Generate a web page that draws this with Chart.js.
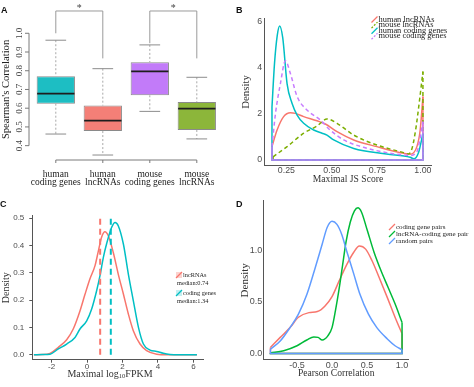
<!DOCTYPE html>
<html><head><meta charset="utf-8">
<script src="https://cdn.jsdelivr.net/npm/chart.js@4.4.1/dist/chart.umd.min.js"></script>
<style>
html,body{margin:0;padding:0;background:#fff;}
#wrap{position:relative;width:474px;height:387px;overflow:hidden;background:#fff}
canvas{position:absolute;}
.pl{position:absolute;font:bold 9px "Liberation Sans",Arial,sans-serif;line-height:9px;color:#111}
</style></head><body>
<div id="wrap">
<canvas id="cA" width="237" height="194" style="left:0;top:0"></canvas>
<canvas id="cB" width="237" height="194" style="left:237px;top:0"></canvas>
<canvas id="cC" width="237" height="193" style="left:0;top:194px"></canvas>
<canvas id="cD" width="237" height="193" style="left:237px;top:194px"></canvas>
<div class="pl" style="left:1px;top:6px">A</div>
<div class="pl" style="left:236px;top:6px">B</div>
<div class="pl" style="left:0px;top:200px">C</div>
<div class="pl" style="left:236px;top:200px">D</div>
</div>
<script>
const SERIF='"Liberation Serif","Times New Roman",serif';
const SANS='"Liberation Sans",Arial,sans-serif';

// ---------- Panel A : box plot ----------
const boxCategories=[['human','coding genes'],['human','lncRNAs'],['mouse','coding genes'],['mouse','lncRNAs']];
const boxLower =[0.462,0.350,0.583,0.436];
const boxQ1    =[0.624,0.478,0.669,0.484];
const boxMedian=[0.678,0.534,0.797,0.598];
const boxQ3    =[0.770,0.615,0.845,0.633];
const boxUpper =[0.963,0.811,0.938,0.765];
const boxColors=['#1DBEC3','#F47F77','#C27BF9','#8CB63A'];
const aYTicks=[0.4,0.5,0.6,0.7,0.8,0.9,1.0];
const aYTickLabels=['0.4','0.5','0.6','0.7','0.8','0.9','1.0'];
const aYTitle="Spearman's Correlation";
const sigPairs=[[0,1],[2,3]];
const sigTop=1.119;
const sigDrops=[[1.0,0.866],[0.947,0.866]];
const sigLabel='*';

// ---------- Panel B : JS score densities ----------
const bLabels=['human lncRNAs','mouse lncRNAs','human coding genes','mouse coding genes'];
const bHumanLncX=[0.171,0.199,0.235,0.272,0.30,0.345,0.418,0.464,0.528,0.62,0.747,0.894,0.93,0.967,0.985,1.0];
const bHumanLncY=[0.58,1.3,1.88,2.05,2.02,1.88,1.7,1.56,1.23,0.87,0.58,0.29,0.25,0.58,1.3,2.75];
const bMouseLncX=[0.177,0.254,0.345,0.418,0.473,0.528,0.62,0.747,0.894,0.92,0.94,0.96,0.98,1.0];
const bMouseLncY=[0.14,0.58,1.16,1.47,1.78,1.59,1.08,0.65,0.32,0.26,0.5,1.3,2.5,3.83];
const bHumanCodX=[0.171,0.185,0.20,0.213,0.23,0.254,0.281,0.309,0.345,0.40,0.446,0.473,0.51,0.62,0.80,0.93,0.95,0.975,1.0];
const bHumanCodY=[2.3,4.2,5.4,5.81,5.3,3.3,2.46,1.95,1.59,1.3,1.16,1.08,0.87,0.5,0.26,0.12,0.05,0.3,1.15];
const bMouseCodX=[0.171,0.19,0.217,0.245,0.272,0.309,0.363,0.437,0.49,0.565,0.674,0.802,0.93,0.967,1.0];
const bMouseCodY=[0.58,2.0,3.3,4.3,3.75,2.75,2.17,1.73,1.3,0.87,0.55,0.32,0.2,0.36,1.66];
const bXTicks=[0.25,0.5,0.75,1.0];
const bXTickLabels=['0.25','0.50','0.75','1.00'];
const bYTicks=[0,2,4,6];
const bYTickLabels=['0','2','4','6'];

// ---------- Panel C : expression densities ----------
const cLncX=[-3.0,-2.5,-2.09,-1.62,-1.15,-0.78,-0.4,-0.12,0.16,0.45,0.64,0.82,1.01,1.2,1.48,1.76,2.05,2.33,2.61,2.99,3.36,3.93,4.5,6.2];
const cLncY=[0,0.0005,0.005,0.027,0.055,0.094,0.16,0.22,0.277,0.326,0.38,0.43,0.45,0.435,0.374,0.295,0.222,0.149,0.088,0.039,0.015,0.002,0,0];
const cCodX=[-3.0,-2.5,-2.09,-1.62,-1.15,-0.68,-0.4,-0.02,0.26,0.54,0.73,0.92,1.1,1.39,1.58,1.76,2.05,2.33,2.61,2.9,3.18,3.55,3.93,4.3,4.68,5.2,6.2];
const cCodY=[0,0.0005,0.002,0.021,0.039,0.063,0.094,0.124,0.167,0.234,0.289,0.356,0.405,0.466,0.484,0.472,0.405,0.295,0.198,0.1,0.039,0.017,0.012,0.005,0.001,0,0];
const cMedians=[0.74,1.34];
const cLegend=['lncRNAs','median:0.74','coding genes','median:1.34'];
const cXTicks=[-2,0,2,4,6];
const cXTickLabels=['-2','0','2','4','6'];
const cYTicks=[0,0.1,0.2,0.3,0.4,0.5];
const cYTickLabels=['0.0','0.1','0.2','0.3','0.4','0.5'];

// ---------- Panel D : Pearson correlation densities ----------
const dLabels=['coding gene pairs','lncRNA-coding gene pair','random pairs'];
const dCodX=[-0.88,-0.74,-0.6,-0.48,-0.33,-0.21,-0.1,0,0.1,0.21,0.31,0.39,0.48,0.57,0.67,0.79,0.9,1.0];
const dCodY=[0.058,0.155,0.25,0.35,0.395,0.405,0.46,0.55,0.7,0.86,0.98,1.04,1.01,0.9,0.74,0.54,0.35,0.19];
const dLncX=[-0.88,-0.69,-0.5,-0.36,-0.26,-0.2,-0.14,-0.06,0,0.05,0.1,0.15,0.2,0.26,0.32,0.37,0.42,0.5,0.6,0.7,0.8,0.9,1.0];
const dLncY=[0.005,0.026,0.074,0.13,0.16,0.155,0.13,0.17,0.25,0.42,0.62,0.85,1.08,1.27,1.38,1.41,1.37,1.2,0.98,0.8,0.64,0.48,0.3];
const dRndX=[-0.88,-0.74,-0.6,-0.48,-0.36,-0.24,-0.14,-0.07,0,0.07,0.14,0.21,0.31,0.4,0.52,0.64,0.79,0.9,1.0];
const dRndY=[0.04,0.12,0.25,0.38,0.57,0.83,1.06,1.22,1.28,1.25,1.15,0.99,0.77,0.57,0.38,0.25,0.14,0.074,0.035];
const dXTicks=[-0.5,0,0.5,1.0];
const dXTickLabels=['-0.5','0.0','0.5','1.0'];
const dYTicks=[0,0.5,1.0];
const dYTickLabels=['0.0','0.5','1.0'];

const RED='#F8766D', TEAL='#00BFC4', GREEN_B='#7CAE00', PURPLE='#C77CFF', GREEN_D='#00BA38', BLUE='#619CFF';

// ---------- helpers ----------
function pts(xs,ys){return xs.map((x,i)=>({x:x,y:ys[i]}));}
function curve(label,xs,ys,color,dash,order){
  return {label,data:pts(xs,ys),borderColor:color,borderWidth:1.5,borderDash:dash||[],pointRadius:0,
    cubicInterpolationMode:'monotone',fill:false,order};
}
function frame(xs,ys,color,dash,order){
  const n=xs.length-1;
  return {label:'',data:[{x:xs[0],y:ys[0]},{x:xs[0],y:0},{x:xs[n],y:0},{x:xs[n],y:ys[n]}],
    borderColor:color,borderWidth:1.5,borderDash:dash||[],pointRadius:0,tension:0,fill:false,order};
}
function axis(o){
  return {type:'linear',min:o.min,max:o.max,
    afterBuildTicks:s=>{s.ticks=o.ticks.map(v=>({value:v}));},
    ticks:{callback:(v,i)=>o.labels[i],font:{family:SANS,size:o.fs},color:'#4d4d4d',padding:o.pad,
      maxRotation:0,minRotation:0,autoSkip:false},
    grid:{display:o.tl>0,drawOnChartArea:false,drawTicks:o.tl>0,tickLength:o.tl||0,color:'#555'},
    border:{display:true,color:'#555',width:1},
    title:o.title?{display:true,text:o.title,font:{family:SERIF,size:o.ts},color:'#333',padding:o.tp}:{display:false},
    afterFit:s=>{ if(o.h) s.height=o.fit; else s.width=o.fit; }
  };
}
function drawLegend(ctx,items,x,y0,dy,font){
  ctx.save();ctx.font=font;ctx.textBaseline='middle';ctx.textAlign='left';
  items.forEach((it,i)=>{
    const y=y0+i*dy;
    if(it.color){
      if(it.box){ctx.fillStyle=it.box;ctx.fillRect(x-7,y-3,6,6);}
      ctx.strokeStyle=it.color;ctx.lineWidth=1.3;ctx.setLineDash(it.dash||[]);
      ctx.beginPath();ctx.moveTo(x-7,y+3);ctx.lineTo(x-1,y-3);ctx.stroke();ctx.setLineDash([]);
    }
    ctx.fillStyle='#222';ctx.fillText(it.text,x,y);
  });
  ctx.restore();
}
const base={responsive:false,animation:false,events:[],devicePixelRatio:1,
  plugins:{legend:{display:false},tooltip:{enabled:false}}};

// ---------- Chart A ----------
const aPlugin={id:'aDeco',afterDatasetsDraw(chart){
  const {ctx,scales:{x,y},chartArea}=chart;
  const meta=chart.getDatasetMeta(0);
  const L=(x1,y1,x2,y2)=>{ctx.beginPath();ctx.moveTo(x1,y1);ctx.lineTo(x2,y2);ctx.stroke();};
  ctx.save();
  meta.data.forEach((bar,i)=>{
    const cx=bar.x,w=bar.width;
    const yU=y.getPixelForValue(boxUpper[i]),yL=y.getPixelForValue(boxLower[i]);
    const y3=y.getPixelForValue(boxQ3[i]),y1=y.getPixelForValue(boxQ1[i]),yM=y.getPixelForValue(boxMedian[i]);
    ctx.strokeStyle='#a8a8a8';ctx.lineWidth=1;ctx.setLineDash([2,2]);
    L(cx,yU,cx,y3);L(cx,y1,cx,yL);
    ctx.setLineDash([]);ctx.strokeStyle='#8c8c8c';
    L(cx-w*0.27,yU,cx+w*0.27,yU);L(cx-w*0.27,yL,cx+w*0.27,yL);
    ctx.strokeStyle='#1e1e1e';ctx.lineWidth=1.8;L(cx-w/2+0.5,yM,cx+w/2-0.5,yM);
  });
  // y axis (R style)
  const ax=chartArea.left-3.3;
  ctx.strokeStyle='#7a7a7a';ctx.lineWidth=1;
  L(ax,y.getPixelForValue(aYTicks[0]),ax,y.getPixelForValue(aYTicks[aYTicks.length-1]));
  ctx.font='9px '+SERIF;ctx.fillStyle='#444';ctx.textAlign='center';ctx.textBaseline='middle';
  aYTicks.forEach((v,i)=>{
    const py=y.getPixelForValue(v);L(ax-4,py,ax,py);
    ctx.save();ctx.translate(ax-9.5,py);ctx.rotate(-Math.PI/2);ctx.fillText(aYTickLabels[i],0,0);ctx.restore();
  });
  ctx.save();ctx.font='10.6px '+SERIF;ctx.fillStyle='#222';
  ctx.translate(6.5,(y.getPixelForValue(0.4)+y.getPixelForValue(1.0))/2);ctx.rotate(-Math.PI/2);
  ctx.fillText(aYTitle,0,0);ctx.restore();
  // x axis line with ticks
  const by=chartArea.bottom;
  L(x.getPixelForValue(0),by,x.getPixelForValue(boxCategories.length-1),by);
  boxCategories.forEach((c,i)=>{const px=x.getPixelForValue(i);L(px,by,px,by+3);});
  // significance brackets
  ctx.strokeStyle='#9a9a9a';
  const ty=y.getPixelForValue(sigTop);
  sigPairs.forEach((p,k)=>{
    const x1=x.getPixelForValue(p[0]),x2=x.getPixelForValue(p[1]);
    ctx.beginPath();ctx.moveTo(x1,y.getPixelForValue(sigDrops[k][0]));ctx.lineTo(x1,ty);ctx.lineTo(x2,ty);
    ctx.lineTo(x2,y.getPixelForValue(sigDrops[k][1]));ctx.stroke();
    ctx.font='10px '+SERIF;ctx.fillStyle='#444';ctx.textAlign='center';ctx.textBaseline='middle';
    ctx.fillText(sigLabel,(x1+x2)/2,ty-3);
  });
  ctx.restore();
}};
new Chart(document.getElementById('cA'),{
  type:'bar',
  data:{labels:boxCategories,datasets:[{data:boxQ1.map((q,i)=>[q,boxQ3[i]]),backgroundColor:boxColors,
    borderColor:'#8a8a8a',borderWidth:1,borderSkipped:false,barPercentage:0.815,categoryPercentage:1}]},
  options:Object.assign({},base,{
    layout:{padding:{left:32.3,right:16.7,top:5,bottom:0}},
    scales:{
      y:{display:false,min:0.3234,max:1.151},
      x:{grid:{display:false,drawTicks:false},border:{display:false},
        ticks:{font:{family:SERIF,size:9.5,lineHeight:'8.6px'},color:'#222',padding:10,maxRotation:0,autoSkip:false},
        afterFit:s=>{s.height=34;}}
    }}),
  plugins:[aPlugin]
});

// ---------- Chart B ----------
const bLegendPlugin={id:'bLeg',afterDraw(chart){
  drawLegend(chart.ctx,[
    {text:bLabels[0],color:RED},{text:bLabels[1],color:GREEN_B,dash:[2,1.5]},
    {text:bLabels[2],color:TEAL},{text:bLabels[3],color:PURPLE,dash:[2,1.5]}],141.5,19.5,5.6,'8.4px '+SERIF);
}};
const dashB=[4,3];
new Chart(document.getElementById('cB'),{
  type:'line',
  data:{datasets:[
    curve(bLabels[0],bHumanLncX,bHumanLncY,RED,null,8),frame(bHumanLncX,bHumanLncY,RED,null,8),
    curve(bLabels[1],bMouseLncX,bMouseLncY,GREEN_B,dashB,6),frame(bMouseLncX,bMouseLncY,GREEN_B,dashB,6),
    curve(bLabels[2],bHumanCodX,bHumanCodY,TEAL,null,4),frame(bHumanCodX,bHumanCodY,TEAL,null,4),
    curve(bLabels[3],bMouseCodX,bMouseCodY,PURPLE,dashB,2),frame(bMouseCodX,bMouseCodY,PURPLE,null,1)
  ]},
  options:Object.assign({},base,{
    layout:{padding:{left:0,right:42.7,top:18.3,bottom:0}},
    scales:{
      x:axis({min:0.131,max:1.046,ticks:bXTicks,labels:bXTickLabels,fs:8.8,pad:-0.8,tl:0,
        title:'Maximal JS Score',ts:9.6,tp:{top:0,bottom:8.5},h:true,fit:28.3}),
      y:axis({min:-0.246,max:6.14,ticks:bYTicks,labels:bYTickLabels,fs:8.8,pad:2.5,tl:0,
        title:'Density',ts:10.8,tp:{top:3,bottom:0},fit:27.7})
    }}),
  plugins:[bLegendPlugin]
});

// ---------- Chart C ----------
const cPlugin={id:'cDeco',afterDraw(chart){
  const ctx=chart.ctx,ca=chart.chartArea;
  drawLegend(ctx,[
    {text:cLegend[0],color:RED,box:'#FBD3CF'},{text:cLegend[1]},
    {text:cLegend[2],color:TEAL,box:'#C4EEF0'},{text:cLegend[3]}].map((it,i)=>it),
    183,81,0,'6.3px '+SERIF);
  // x title with subscript
  ctx.save();ctx.fillStyle='#333';ctx.textBaseline='middle';ctx.textAlign='left';
  const f1='10px '+SERIF,f2='6.5px '+SERIF;
  const p1='Maximal log',p2='10',p3='FPKM';
  ctx.font=f1;const w1=ctx.measureText(p1).width,w3=ctx.measureText(p3).width;
  ctx.font=f2;const w2=ctx.measureText(p2).width;
  let sx=110-(w1+w2+w3)/2,sy=180;
  ctx.font=f1;ctx.fillText(p1,sx,sy);ctx.font=f2;ctx.fillText(p2,sx+w1,sy+2.5);ctx.font=f1;ctx.fillText(p3,sx+w1+w2,sy);
  ctx.restore();
}};
// custom legend rows for C (lines at different y)
cPlugin.afterDraw=function(chart){
  const ctx=chart.ctx;
  const rows=[[cLegend[0],RED,'#FBD3CF',81,183],[cLegend[1],null,null,89.5,177],[cLegend[2],TEAL,'#C4EEF0',99,183],[cLegend[3],null,null,107.5,177]];
  rows.forEach(r=>drawLegend(ctx,[{text:r[0],color:r[1],box:r[2]}],r[4],r[3],0,'6.3px '+SERIF));
  ctx.save();ctx.fillStyle='#333';ctx.textBaseline='middle';ctx.textAlign='left';
  const f1='10px '+SERIF,f2='6.5px '+SERIF;
  const p1='Maximal log',p2='10',p3='FPKM';
  ctx.font=f1;const w1=ctx.measureText(p1).width,w3=ctx.measureText(p3).width;
  ctx.font=f2;const w2=ctx.measureText(p2).width;
  const sx=110-(w1+w2+w3)/2,sy=180;
  ctx.font=f1;ctx.fillText(p1,sx,sy);ctx.font=f2;ctx.fillText(p2,sx+w1,sy+2.5);ctx.font=f1;ctx.fillText(p3,sx+w1+w2,sy);
  ctx.restore();
};
const cYmax=0.5085;
new Chart(document.getElementById('cC'),{
  type:'line',
  data:{datasets:[
    curve('lncRNAs',cLncX,cLncY,RED,null,5),
    curve('coding genes',cCodX,cCodY,TEAL,null,4),
    {label:'',data:[{x:cMedians[0],y:0},{x:cMedians[0],y:cYmax}],borderColor:RED,borderWidth:2,borderDash:[6,4],pointRadius:0,order:2},
    {label:'',data:[{x:cMedians[1],y:0},{x:cMedians[1],y:cYmax}],borderColor:TEAL,borderWidth:2,borderDash:[6,4],pointRadius:0,order:1}
  ]},
  options:Object.assign({},base,{
    layout:{padding:{left:0,right:33.7,top:21.7,bottom:0}},
    scales:{
      x:axis({min:-3.09,max:6.56,ticks:cXTicks,labels:cXTickLabels,fs:8,pad:-1.2,tl:3,h:true,fit:27.3}),
      y:axis({min:-0.0183,max:cYmax,ticks:cYTicks,labels:cYTickLabels,fs:8,pad:5,tl:3,
        title:'Density',ts:10,tp:{top:0,bottom:0},fit:32.3})
    }}),
  plugins:[cPlugin]
});

// ---------- Chart D ----------
const dLegendPlugin={id:'dLeg',afterDraw(chart){
  drawLegend(chart.ctx,[{text:dLabels[0],color:RED},{text:dLabels[1],color:GREEN_D},{text:dLabels[2],color:BLUE}],
    159,33,7,'7px '+SERIF);
}};
new Chart(document.getElementById('cD'),{
  type:'line',
  data:{datasets:[
    curve(dLabels[0],dCodX,dCodY,RED,null,6),frame(dCodX,dCodY,RED,null,6),
    curve(dLabels[1],dLncX,dLncY,GREEN_D,null,4),frame(dLncX,dLncY,GREEN_D,null,4),
    curve(dLabels[2],dRndX,dRndY,BLUE,null,2),frame(dRndX,dRndY,BLUE,null,1)
  ]},
  options:Object.assign({},base,{
    layout:{padding:{left:0,right:65.3,top:6.7,bottom:0}},
    scales:{
      x:axis({min:-0.976,max:1.095,ticks:dXTicks,labels:dXTickLabels,fs:9,pad:0.6,tl:0,
        title:'Pearson Correlation',ts:9.6,tp:{top:0,bottom:7.5},h:true,fit:27.3}),
      y:axis({min:-0.061,max:1.477,ticks:dYTicks,labels:dYTickLabels,fs:9,pad:1.5,tl:0,
        title:'Density',ts:11,tp:{top:1.7,bottom:0},fit:26.7})
    }}),
  plugins:[dLegendPlugin]
});
</script>
</body></html>
